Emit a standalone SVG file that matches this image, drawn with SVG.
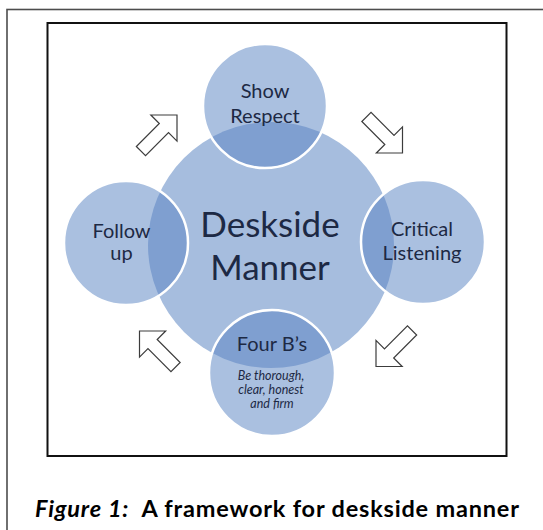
<svg xmlns="http://www.w3.org/2000/svg" width="543" height="530" viewBox="0 0 543 530">
  <style>
    .light { fill: #aac0e0; }
    .big { fill: #a6bdde; }
    .dark { fill: #7f9fd0; }
    .ring { fill: none; stroke: #ffffff; stroke-width: 2.5; }
    .lbl { font-family: Lato, "Open Sans", sans-serif; fill: #1d2944; text-anchor: middle; }
    .sat { font-size: 20px; }
    .main { font-size: 35px; }
    .sub { font-size: 12.5px; font-style: italic; }
    .arrow { fill: #ffffff; stroke: #3c3c3c; stroke-width: 1.2; stroke-linejoin: miter; }
    .cap { font-family: Lato, "Open Sans", sans-serif; font-weight: bold; font-size: 23.5px; fill: #000000; }
  </style>
  <defs>
    <clipPath id="clipBig">
      <circle cx="271" cy="245" r="123"/>
    </clipPath>
    <path id="blockArrow" d="M0,0 L-18.5,-18.5 L-18.5,-6.5 L-51,-6.5 L-51,6.5 L-18.5,6.5 L-18.5,18.5 Z"/>
  </defs>
  <rect width="543" height="530" fill="#ffffff"/>
  <rect id="outer-frame" x="7" y="9.5" width="700" height="700" fill="none" stroke="#4d4d4d" stroke-width="1.6"/>
  <rect id="inner-frame" x="47.5" y="23" width="459" height="433" fill="none" stroke="#111111" stroke-width="2"/>

  <g id="center">
    <circle class="big" cx="271" cy="245" r="123"/>
    <text class="lbl main" x="270" y="237">Deskside</text>
    <text class="lbl main" x="270" y="280">Manner</text>
  </g>

  <g id="show-respect">
    <circle class="light" cx="265" cy="106" r="62"/>
    <circle class="dark" cx="265" cy="106" r="62" clip-path="url(#clipBig)"/>
    <circle class="ring" cx="265" cy="106" r="62"/>
    <text class="lbl sat" x="265" y="98">Show</text>
    <text class="lbl sat" x="265" y="123">Respect</text>
  </g>

  <g id="critical-listening">
    <circle class="light" cx="423" cy="242" r="62"/>
    <circle class="dark" cx="423" cy="242" r="62" clip-path="url(#clipBig)"/>
    <circle class="ring" cx="423" cy="242" r="62"/>
    <text class="lbl sat" x="422" y="236">Critical</text>
    <text class="lbl sat" x="422" y="260">Listening</text>
  </g>

  <g id="four-bs">
    <circle class="light" cx="272" cy="373" r="63"/>
    <circle class="dark" cx="272" cy="373" r="63" clip-path="url(#clipBig)"/>
    <circle class="ring" cx="272" cy="373" r="63"/>
    <text class="lbl sat" x="272" y="351">Four B’s</text>
    <text class="lbl sub" x="271" y="380">Be thorough,</text>
    <text class="lbl sub" x="271" y="394">clear, honest</text>
    <text class="lbl sub" x="272" y="408">and firm</text>
  </g>

  <g id="follow-up">
    <circle class="light" cx="126" cy="243" r="62"/>
    <circle class="dark" cx="126" cy="243" r="62" clip-path="url(#clipBig)"/>
    <circle class="ring" cx="126" cy="243" r="62"/>
    <text class="lbl sat" x="121.5" y="238">Follow</text>
    <text class="lbl sat" x="121.5" y="260">up</text>
  </g>

  <g id="connectors">
    <use href="#blockArrow" class="arrow" transform="translate(177,115) rotate(-45)"/>
    <use href="#blockArrow" class="arrow" transform="translate(402.5,153) rotate(45)"/>
    <use href="#blockArrow" class="arrow" transform="translate(376,366.5) rotate(135)"/>
    <use href="#blockArrow" class="arrow" transform="translate(139.5,331) rotate(-135)"/>
  </g>

  <text id="caption" class="cap" x="35" y="517" xml:space="preserve" textLength="484" lengthAdjust="spacing"><tspan font-style="italic">Figure 1:</tspan>  A framework for deskside manner</text>
</svg>
